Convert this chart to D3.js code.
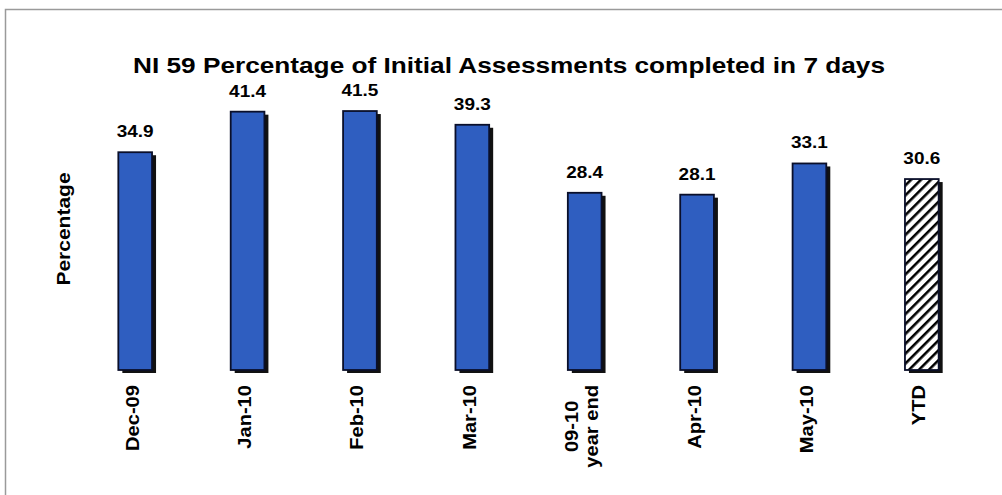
<!DOCTYPE html>
<html lang="en">
<head>
  <meta charset="utf-8" />
  <title>NI 59 Percentage of Initial Assessments completed in 7 days</title>
  <script src="https://d3js.org/d3.v7.min.js"></script>
  <style>
    html, body { margin: 0; padding: 0; background: #fff; }
    svg { display: block; font-family: Arial, "Liberation Sans", sans-serif; }
    .lbl { font-weight: bold; fill: #000; }
  </style>
</head>
<body>
  <svg id="chart" width="1002" height="495"></svg>
  <script>
    // chart data
    const categories = ["Dec-09", "Jan-10", "Feb-10", "Mar-10", "09-10\nyear end", "Apr-10", "May-10", "YTD"];
    const values = [34.9, 41.4, 41.5, 39.3, 28.4, 28.1, 33.1, 30.6];
    const hatched = ["YTD"];

    const W = 1002, H = 495;
    const BASE_Y = 370;
    const BLUE = "#2f5ec0";
    const STRETCH = 1.15; // the scanned font runs wider than Liberation Sans

    const svg = d3.select("#chart");

    const defs = svg.append("defs");
    const pat = defs.append("pattern")
      .attr("id", "hatch")
      .attr("patternUnits", "userSpaceOnUse")
      .attr("width", 7).attr("height", 7)
      .attr("patternTransform", "rotate(45)");
    pat.append("rect").attr("width", 7).attr("height", 7).attr("fill", "#fff");
    pat.append("rect").attr("x", 0).attr("width", 2.6).attr("height", 7).attr("fill", "#000");

    // frame
    svg.append("rect")
      .attr("x", 5.5).attr("y", 9.5)
      .attr("width", W + 10).attr("height", H + 10)
      .attr("fill", "none")
      .attr("stroke", "#9a9a9a")
      .attr("stroke-width", 1.5);

    const x = d3.scaleBand()
      .domain(categories)
      .range([79, 978])
      .paddingInner(0.7)
      .paddingOuter(0.35);

    const y = d3.scaleLinear()
      .domain([0, 45])
      .range([BASE_Y, BASE_Y - 45 * 6.24]);

    const data = categories.map((c, i) => ({ cat: c, v: values[i] }));

    // title
    svg.append("text")
      .attr("class", "lbl")
      .attr("x", 133).attr("y", 73)
      .attr("textLength", 752)
      .attr("lengthAdjust", "spacingAndGlyphs")
      .style("font-size", "21.5px")
      .text("NI 59 Percentage of Initial Assessments completed in 7 days");

    // y axis title
    svg.append("text")
      .attr("class", "lbl")
      .attr("transform", `translate(70,229) rotate(-90) scale(${STRETCH + 0.05},1)`)
      .attr("text-anchor", "middle")
      .style("font-size", "17.5px")
      .text("Percentage");

    const bars = svg.append("g").selectAll("g")
      .data(data)
      .join("g");

    // shadow
    bars.append("rect")
      .attr("x", d => x(d.cat) + 4)
      .attr("y", d => y(d.v) + 3)
      .attr("width", x.bandwidth())
      .attr("height", d => BASE_Y - y(d.v))
      .attr("fill", "#111");

    bars.append("rect")
      .attr("x", d => x(d.cat))
      .attr("y", d => y(d.v))
      .attr("width", x.bandwidth())
      .attr("height", d => BASE_Y - y(d.v))
      .attr("fill", d => hatched.includes(d.cat) ? "url(#hatch)" : BLUE)
      .attr("stroke", "#0a0f2a")
      .attr("stroke-width", 1.8);

    // value labels
    bars.append("text")
      .attr("class", "lbl")
      .attr("transform", d => `translate(${x(d.cat) + x.bandwidth() / 2},${y(d.v) - 15}) scale(${STRETCH},1)`)
      .attr("text-anchor", "middle")
      .style("font-size", "16.5px")
      .text(d => d.v.toFixed(1));

    // category labels, rotated
    const xl = svg.append("g").selectAll("g")
      .data(data)
      .join("g")
      .attr("transform", d => `translate(${x(d.cat) + x.bandwidth() / 2},385) rotate(-90) scale(${STRETCH},1)`);

    xl.each(function(d) {
      const g = d3.select(this);
      const lines = d.cat.split("\n");
      const lh = 20;
      const texts = lines.map((ln, i) => g.append("text")
        .attr("class", "lbl")
        .style("font-size", "17.5px")
        .attr("y", (i - (lines.length - 1) / 2) * lh + 3.5)
        .text(ln));
      const maxLen = d3.max(texts, t => t.node().getComputedTextLength());
      texts.forEach(t => t.attr("text-anchor", "middle").attr("x", -maxLen / 2));
    });
  </script>
</body>
</html>
